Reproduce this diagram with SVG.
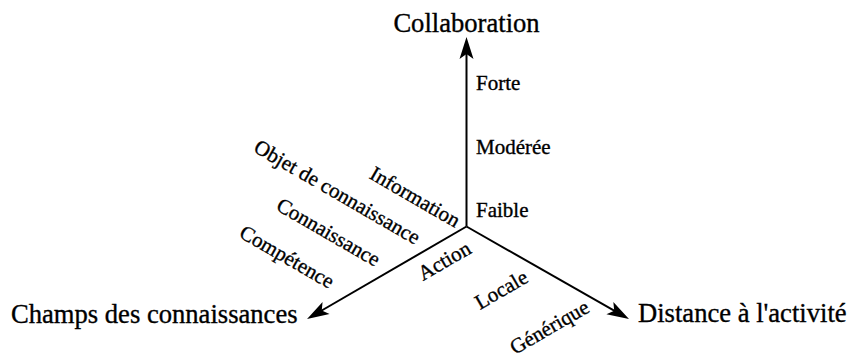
<svg xmlns="http://www.w3.org/2000/svg" width="853" height="358" viewBox="0 0 853 358">
<style>
text{font-family:"Liberation Serif","Times New Roman",serif;fill:#000;stroke:#000;stroke-width:0.35}
.t{font-size:26.6px}
.l{font-size:21px}
.ax{stroke:#000;stroke-width:2;fill:none}
</style>
<defs>
<marker id="ah" markerUnits="userSpaceOnUse" markerWidth="30" markerHeight="20" refX="12" refY="8" orient="auto" overflow="visible">
<path d="M0,1 L22,8 L0,15 L5,8 Z" fill="#000"/>
</marker>
</defs>
<rect width="853" height="358" fill="#fff"/>
<g id="connectors">
<line class="ax" x1="466.5" y1="226.5" x2="466.5" y2="47" marker-end="url(#ah)"/>
<line class="ax" x1="466.5" y1="226.5" x2="620.3" y2="314.1" marker-end="url(#ah)"/>
<line class="ax" x1="466.5" y1="226.5" x2="315.7" y2="314" marker-end="url(#ah)"/>
</g>
<g id="collaboration">
<text class="t" x="466.5" y="32" text-anchor="middle">Collaboration</text>
<text class="l" x="476" y="90">Forte</text>
<text class="l" x="476" y="154">Modérée</text>
<text class="l" x="476" y="217">Faible</text>
</g>
<g id="champs">
<text class="t" x="11" y="323">Champs des connaissances</text>
<text class="l" text-anchor="end" transform="translate(455,228) rotate(30)">Information</text>
<text class="l" text-anchor="end" transform="translate(415,245) rotate(30)">Objet de connaissance</text>
<text class="l" text-anchor="end" transform="translate(375,267) rotate(30)">Connaissance</text>
<text class="l" text-anchor="end" transform="translate(329,289) rotate(30)">Compétence</text>
<text class="l" transform="translate(423,281) rotate(-30)">Action</text>
</g>
<g id="distance">
<text class="t" x="638" y="322">Distance à l'activité</text>
<text class="l" transform="translate(480,310) rotate(-30)">Locale</text>
<text class="l" transform="translate(515,355) rotate(-30)">Générique</text>
</g>
</svg>
